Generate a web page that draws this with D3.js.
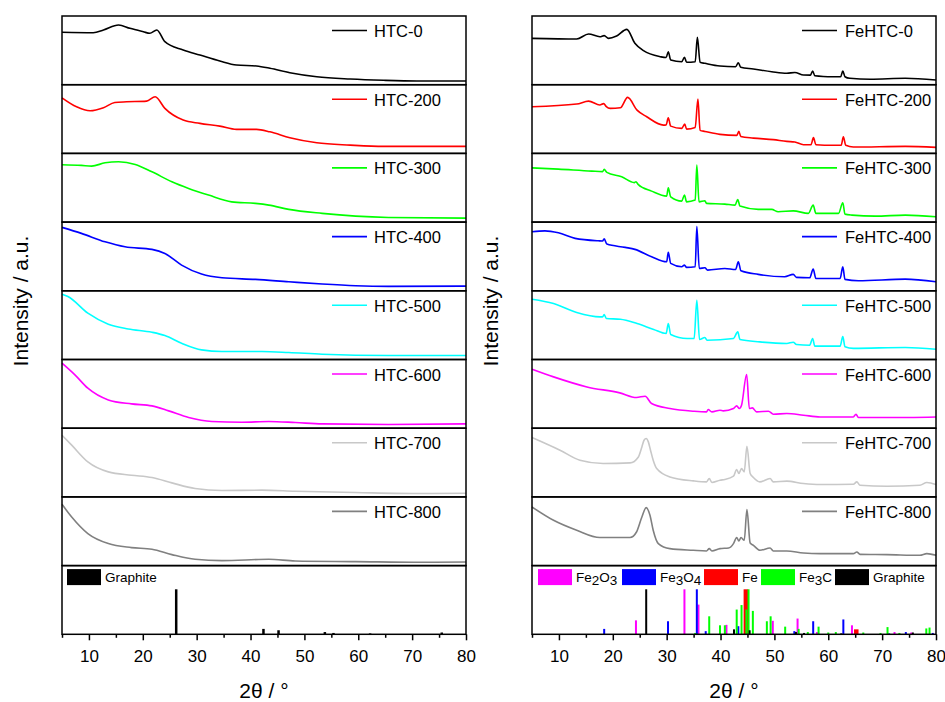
<!DOCTYPE html>
<html>
<head>
<meta charset="utf-8">
<script src="https://cdn.jsdelivr.net/npm/d3@7"></script>
<style>
body { margin: 0; background: #fff; }
text { font-family: "Liberation Sans", Arial, sans-serif; fill: #000; }
</style>
</head>
<body>
<script>
// XRD patterns, HTC (left) and FeHTC (right)

var xTicks = [10, 20, 30, 40, 50, 60, 70, 80];
var xMinorTicks = [5, 15, 25, 35, 45, 55, 65, 75];

var htcNames = ['HTC-0', 'HTC-200', 'HTC-300', 'HTC-400', 'HTC-500', 'HTC-600', 'HTC-700', 'HTC-800'];
var fehtcNames = ['FeHTC-0', 'FeHTC-200', 'FeHTC-300', 'FeHTC-400', 'FeHTC-500', 'FeHTC-600', 'FeHTC-700', 'FeHTC-800'];
var seriesColors = ['#000000', '#ff0000', '#00ff00', '#0000ff', '#00ffff', '#ff00ff', '#c8c8c8', '#808080'];

// [2theta, intensity in % of panel height]
var htc0 = [[5,76.3],[10.8,75.7],[12.7,79.6],[15.5,86.9],[17.6,82.1],[20.1,77.1],[21.3,74.8],[22.6,79.6],[24.1,62.6],[27.5,50.5],[30.6,43.2],[34.3,34.5],[37.4,28.7],[41.1,27.2],[43.6,23.9],[47.3,17.5],[52.3,11.6],[58.5,8.3],[64.7,6.4],[70.9,5.4],[80,5.4]];
var htc200 = [[5,80.9],[7.7,67.8],[10.2,62.0],[12.7,66.4],[14.8,74.2],[17.0,75.1],[20.7,76.1],[22.3,82.4],[24.1,65.5],[27.5,48.5],[30.6,43.7],[34.3,39.7],[37.4,34.9],[41.1,34.9],[43.6,31.4],[47.3,22.7],[52.3,15.4],[58.5,12.1],[64.7,10.2],[80,10.2]];
var htc300 = [[5,83.4],[8.6,82.5],[10.5,81.5],[13.0,86.3],[15.5,87.8],[18.6,84.0],[21.7,73.2],[25.4,58.7],[28.5,49.0],[32.2,39.3],[36.5,29.5],[40.9,27.2],[43.4,24.7],[47.1,18.5],[53.3,12.7],[59.5,8.7],[65.6,6.8],[80,5.8]];
var htc400 = [[5,92.3],[8.6,83.6],[13.0,71.3],[16.7,64.0],[21.7,60.3],[24.1,54.4],[27.2,37.4],[30.9,24.3],[34.7,18.9],[40.9,16.6],[47.1,13.1],[53.3,9.8],[59.5,7.3],[65.6,6.4],[80,6.8]];
var htc500 = [[5,95.0],[6.1,91.7],[9.8,67.4],[13.6,51.4],[17.3,44.5],[21.7,39.7],[24.1,34.9],[27.2,23.7],[30.9,14.0],[34.7,11.6],[42.1,11.6],[47.1,10.2],[53.3,7.7],[65.6,5.8],[80,5.8]];
var htc600 = [[5,94.6],[7.4,77.6],[9.8,58.2],[13.6,41.2],[17.9,35.4],[21.7,32.5],[24.8,25.2],[28.5,15.6],[32.8,9.8],[38.4,8.7],[43.4,9.8],[48.3,8.3],[53.3,6.3],[65.6,5.4],[80,6.3]];
var htc700 = [[5,89.8],[6.8,75.3],[9.8,50.9],[13.6,36.4],[17.9,31.6],[21.7,28.2],[25.4,20.4],[29.7,12.2],[34.7,9.3],[42.1,9.8],[48.3,8.3],[59.5,6.4],[71.8,4.9],[80,5.4]];
var htc800 = [[5,89.2],[6.8,70.7],[9.8,46.6],[13.6,32.0],[17.9,26.2],[21.7,23.7],[25.4,16.0],[29.7,9.2],[34.7,7.3],[43.4,9.2],[48.3,6.7],[59.5,5.8],[71.8,4.8],[80,5.2]];

var fehtc0 = [[5,67.5],[13.3,66.5],[15.5,73.8],[17.6,69.9],[18.4,71.5],[19.2,67.5],[20.7,70.9],[22.6,80.6],[24.1,60.3],[25.7,49.5],[28.8,40.8],[29.9,39.5],[30.3,48.0],[30.75,36.0],[32.8,33.5],[33.3,39.9],[33.7,32.6],[35.3,33.5],[35.7,69.0],[36.2,32.6],[37.1,31.1],[39.9,27.2],[42.8,26.2],[43.3,32.0],[43.75,25.3],[46.1,22.9],[49.5,18.9],[52.3,16.6],[53.8,17.8],[55.4,14.1],[56.7,14.0],[57.1,19.9],[57.5,13.1],[60.9,11.6],[62.3,11.5],[62.7,19.9],[63.1,11.6],[64.0,9.3],[67.8,7.9],[74.3,9.3],[80,6.8]];
var fehtc200 = [[5,67.8],[13.3,71.8],[15.5,76.1],[17.6,70.5],[18.3,72.5],[18.8,68.0],[19.5,65.5],[21.4,66.4],[22.75,81.5],[24.5,63.0],[26.3,53.3],[29.4,41.2],[29.9,41.5],[30.3,51.8],[30.75,39.7],[32.8,36.4],[33.35,42.6],[33.7,35.4],[35.3,37.8],[35.8,79.0],[36.2,33.5],[37.1,32.0],[39.9,27.7],[43.0,26.2],[43.4,32.0],[43.75,24.7],[46.1,22.3],[49.8,20.1],[52.3,17.5],[53.8,16.6],[55.4,12.7],[56.8,12.7],[57.25,23.0],[57.7,12.7],[60.9,11.8],[62.4,11.8],[62.8,24.0],[63.25,11.8],[64.65,9.3],[74.3,10.2],[80,8.7]];
var fehtc300 = [[5,79.0],[9.9,77.1],[16.1,74.2],[18.1,73.5],[18.4,76.7],[18.9,72.3],[21.65,65.9],[24.0,57.5],[24.3,58.7],[24.7,54.9],[27.2,45.1],[30.0,37.8],[30.3,49.9],[30.75,36.8],[32.8,30.6],[33.3,39.3],[33.7,29.5],[35.3,32.0],[35.6,83.0],[36.0,29.5],[37.1,31.0],[37.4,27.2],[40.8,26.2],[42.7,24.7],[43.2,33.0],[43.6,23.3],[47.0,18.5],[49.5,18.5],[50.7,15.0],[53.5,16.4],[56.3,12.7],[57.2,24.7],[57.7,12.7],[61.9,12.7],[62.7,28.1],[63.1,11.6],[64.4,10.2],[68.7,8.7],[74.3,10.2],[80,7.7]];
var fehtc400 = [[5,85.9],[7.4,87.3],[9.9,84.4],[13.0,76.3],[17.3,72.8],[18.1,72.5],[18.4,75.8],[18.9,68.0],[22.3,63.2],[24.1,60.3],[27.2,49.5],[30.0,42.2],[30.3,55.9],[30.75,39.9],[32.8,35.0],[33.3,37.4],[33.7,34.1],[35.3,35.0],[35.6,93.6],[36.05,32.5],[37.1,33.5],[37.6,30.1],[40.8,32.5],[42.8,31.0],[43.3,42.2],[43.8,29.1],[47.0,23.9],[51.9,20.4],[53.5,23.9],[54.1,19.5],[56.55,18.9],[57.2,31.6],[57.7,18.0],[62.2,18.0],[62.7,34.9],[63.1,16.6],[65.6,14.6],[74.3,17.0],[80,13.1]];
var fehtc500 = [[5,87.8],[9.0,81.5],[13.3,68.4],[17.6,62.0],[18.1,62.0],[18.4,65.5],[18.8,59.7],[21.4,58.7],[24.5,52.4],[27.6,43.7],[29.9,37.8],[30.3,52.4],[30.75,36.4],[33.8,30.6],[35.1,30.6],[35.6,86.3],[36.1,29.1],[37.1,32.0],[37.5,28.1],[42.4,30.6],[43.2,40.2],[43.6,29.1],[47.3,25.6],[52.3,23.3],[53.5,25.2],[54.1,21.8],[56.55,20.8],[57.1,30.6],[57.5,19.4],[62.2,19.4],[62.7,33.5],[63.1,18.5],[64.65,16.2],[74.3,17.5],[80,15.0]];
var fehtc600 = [[5,85.9],[9.0,74.7],[15.2,60.1],[21.3,51.4],[24.4,44.7],[26.0,46.6],[27.2,35.9],[30.6,28.7],[34.95,24.7],[37.4,23.7],[37.7,27.2],[38.4,23.7],[39.9,26.2],[40.5,25.2],[42.4,28.7],[43.0,32.5],[43.5,28.7],[43.9,33.5],[44.85,78.1],[45.35,28.7],[45.9,29.6],[46.7,23.7],[48.9,24.7],[49.8,20.4],[52.3,21.4],[55.4,18.9],[58.5,16.4],[64.65,16.4],[65.15,20.4],[65.6,15.5],[70.9,15.5],[80,16.4]];
var fehtc700 = [[5,86.5],[10.2,68.0],[13.9,53.4],[18.2,48.6],[23.2,49.5],[24.75,58.2],[25.4,72.8],[25.8,82.5],[26.2,85.0],[26.6,80.1],[27.0,68.0],[27.5,53.4],[28.15,41.3],[30.6,29.1],[34.95,23.3],[37.4,21.8],[37.9,26.8],[38.4,21.0],[39.9,24.3],[40.8,25.3],[42.4,30.1],[43.0,39.9],[43.4,34.1],[43.9,41.3],[44.4,36.4],[44.9,73.8],[45.5,34.1],[46.1,28.2],[47.3,21.8],[49.2,26.8],[49.8,21.8],[52.3,22.9],[55.4,19.5],[58.5,18.0],[64.65,18.5],[65.3,21.8],[65.9,17.0],[70.9,15.6],[77.0,17.0],[78.3,21.0],[80,18.0]];
var fehtc800 = [[5,85.3],[9.0,65.9],[13.3,51.4],[17.6,40.8],[23.2,40.8],[24.4,48.9],[25.4,70.7],[26.2,84.4],[26.9,73.2],[27.5,51.4],[28.45,32.0],[30.6,24.7],[34.95,22.3],[37.4,21.3],[37.9,24.7],[38.4,21.3],[39.9,24.7],[41.5,25.6],[42.4,32.0],[43.0,40.8],[43.4,35.8],[43.8,40.8],[44.4,36.8],[44.9,81.5],[45.5,32.9],[46.1,29.5],[47.3,22.3],[49.2,25.6],[49.8,21.3],[52.3,21.3],[55.4,18.3],[58.5,17.5],[64.65,17.5],[65.3,19.8],[65.9,16.4],[70.9,16.0],[77.0,15.0],[78.3,17.5],[80,15.0]];

// reference patterns [2theta, relative intensity]
var graphiteLeft = [[26.2,100],[42.4,12],[45.2,9],[53.8,5],[55.4,3],[62.2,2],[75.5,4]];
var fe2o3Bars = [[24.3,31],[33.3,100],[35.9,66],[41.1,21],[49.7,30],[54.3,35],[57.9,5],[64.4,20],[72.3,5],[75.4,4]];
var fe3o4Bars = [[18.4,12],[30.25,29],[35.6,100],[37.25,7],[43.3,18],[53.7,7],[57.2,29],[62.8,33],[71.3,2],[74.4,5],[79.4,3]];
var feBars = [[44.7,100],[65.2,11]];
var fe3cBars = [[35.3,3],[37.9,40],[39.9,20],[40.8,20],[43.0,55],[43.9,65],[44.8,55],[45.2,100],[46.0,52],[48.6,29],[49.3,40],[52.0,17],[54.5,12],[56.2,5],[58.2,17],[60.0,4],[61.4,5],[66.5,4],[69.7,3],[71.0,16],[73.2,3],[78.2,13],[78.8,15]];
var graphiteRight = [[26.2,100],[42.5,11],[45.4,9],[54.0,5],[55.5,3],[62.4,2],[75.7,4]];

var w = 945;
var h = 702;
var top0 = 16;
var panelH = 68.7;
var plotW = 404;

var svg = d3.select('body')
	.append('svg')
	.attr('width', w)
	.attr('height', h);

function drawColumn(x0, names, data, legendLineX, legendTextX, refSets, refLegend) {
	var x = d3.scaleLinear().domain([5, 80]).range([x0, x0 + plotW]);
	var line = d3.line()
		.x(function(d) { return x(d[0]); })
		.curve(d3.curveMonotoneX);

	// stacked patterns
	data.forEach(function(series, i) {
		var top = top0 + i * panelH;
		var y = d3.scaleLinear().domain([0, 100]).range([top + panelH, top]);
		line.y(function(d) { return y(d[1]); });
		svg.append('path')
			.datum(series)
			.attr('d', line)
			.attr('fill', 'none')
			.attr('stroke', seriesColors[i])
			.attr('stroke-width', 1.6)
			.attr('stroke-linejoin', 'round');
		svg.append('line')
			.attr('x1', legendLineX).attr('x2', legendLineX + 35)
			.attr('y1', top + 14.5).attr('y2', top + 14.5)
			.attr('stroke', seriesColors[i])
			.attr('stroke-width', 1.6);
		svg.append('text')
			.attr('x', legendTextX)
			.attr('y', top + 21)
			.attr('font-size', '16.5px')
			.text(names[i]);
		svg.append('rect')
			.attr('x', x0).attr('y', top)
			.attr('width', plotW).attr('height', panelH)
			.attr('fill', 'none').attr('stroke', '#000').attr('stroke-width', 1.5);
	});

	// reference panel
	var refTop = top0 + 8 * panelH;
	var refBottom = refTop + panelH;
	var yr = d3.scaleLinear().domain([0, 100]).range([refBottom, refBottom - 45]);
	refSets.forEach(function(set) {
		svg.append('g').selectAll('rect')
			.data(set.bars)
			.enter()
			.append('rect')
			.attr('x', function(d) { return x(d[0]) - set.width / 2; })
			.attr('y', function(d) { return yr(d[1]); })
			.attr('width', set.width)
			.attr('height', function(d) { return yr(0) - yr(d[1]); })
			.attr('fill', set.color);
	});
	svg.append('rect')
		.attr('x', x0).attr('y', refTop)
		.attr('width', plotW).attr('height', panelH)
		.attr('fill', 'none').attr('stroke', '#000').attr('stroke-width', 1.5);

	// reference legend
	refLegend.forEach(function(item) {
		svg.append('rect')
			.attr('x', item.x).attr('y', refTop + 3.5)
			.attr('width', 34).attr('height', 16)
			.attr('fill', item.color);
		var t = svg.append('text')
			.attr('x', item.x + 38)
			.attr('y', refTop + 16.5)
			.attr('font-size', '13.5px');
		item.parts.forEach(function(p) {
			t.append('tspan')
				.attr('dy', p[1])
				.text(p[0]);
		});
	});

	// x axis
	var axis = svg.append('g')
		.attr('transform', 'translate(0,' + refBottom + ')')
		.call(d3.axisBottom(x).tickValues(xTicks).tickSize(6).tickPadding(10).tickSizeOuter(0));
	axis.select('.domain').remove();
	axis.selectAll('line').attr('stroke', '#000').attr('stroke-width', 1.5);
	axis.selectAll('text')
		.attr('font-size', '17px')
		.attr('font-family', '"Liberation Sans", Arial, sans-serif');
	var minor = svg.append('g')
		.attr('transform', 'translate(0,' + refBottom + ')')
		.call(d3.axisBottom(x).tickValues(xMinorTicks).tickSize(3.5).tickFormat(''));
	minor.select('.domain').remove();
	minor.selectAll('line').attr('stroke', '#000').attr('stroke-width', 1.5);

	svg.append('text')
		.attr('x', x0 + plotW / 2)
		.attr('y', 698)
		.attr('text-anchor', 'middle')
		.attr('font-size', '21px')
		.text('2\u03b8 / \u00b0');

	svg.append('text')
		.attr('transform', 'translate(' + (x0 - 41) + ',301) rotate(-90)')
		.attr('dy', '0.35em')
		.attr('text-anchor', 'middle')
		.attr('font-size', '21px')
		.text('Intensity / a.u.');
}

drawColumn(62, htcNames,
	[htc0, htc200, htc300, htc400, htc500, htc600, htc700, htc800],
	332, 374,
	[{ bars: graphiteLeft, color: '#000', width: 2.5 }],
	[{ x: 67, color: '#000', parts: [['Graphite', 0]] }]);

drawColumn(532, fehtcNames,
	[fehtc0, fehtc200, fehtc300, fehtc400, fehtc500, fehtc600, fehtc700, fehtc800],
	802, 845,
	[{ bars: fe2o3Bars, color: '#ff00ff', width: 2 },
	 { bars: fe3o4Bars, color: '#0000ff', width: 2 },
	 { bars: feBars, color: '#ff0000', width: 4.5 },
	 { bars: fe3cBars, color: '#00ff00', width: 2 },
	 { bars: graphiteRight, color: '#000', width: 2 }],
	[{ x: 538, color: '#ff00ff', parts: [['Fe', 0], ['2', 3], ['O', -3], ['3', 3]] },
	 { x: 622, color: '#0000ff', parts: [['Fe', 0], ['3', 3], ['O', -3], ['4', 3]] },
	 { x: 704, color: '#ff0000', parts: [['Fe', 0]] },
	 { x: 761, color: '#00ff00', parts: [['Fe', 0], ['3', 3], ['C', -3]] },
	 { x: 835, color: '#000', parts: [['Graphite', 0]] }]);
</script>
</body>
</html>
